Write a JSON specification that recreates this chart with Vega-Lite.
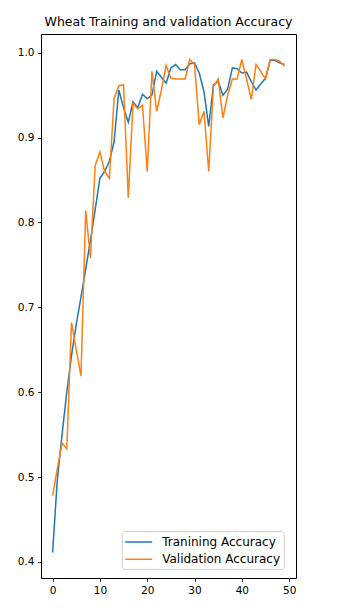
{
  "$schema": "https://vega.github.io/schema/vega-lite/v6.json",
  "autosize": {"type": "none"},
  "padding": {"left": 41, "top": 34, "right": 45, "bottom": 37},
  "width": 255,
  "height": 544,
  "background": "white",
  "title": {"text": "Wheat Training and validation Accuracy", "font": "DejaVu Sans", "fontSize": 12.5, "fontWeight": "normal", "color": "black", "offset": 6, "anchor": "middle"},
  "config": {
    "font": "DejaVu Sans",
    "view": {"stroke": "black", "strokeWidth": 1},
    "axis": {"grid": false, "domain": false, "tickColor": "black", "tickSize": 3.5, "tickWidth": 0.8, "labelColor": "black", "labelFontSize": 10.5, "labelFont": "DejaVu Sans", "labelPadding": 3.5, "title": null}
  },
  "data": {"values": [
    {"epoch":0,"accuracy":0.411,"series":"Tranining Accuracy"},
    {"epoch":1,"accuracy":0.497,"series":"Tranining Accuracy"},
    {"epoch":2,"accuracy":0.55,"series":"Tranining Accuracy"},
    {"epoch":3,"accuracy":0.6,"series":"Tranining Accuracy"},
    {"epoch":4,"accuracy":0.643,"series":"Tranining Accuracy"},
    {"epoch":5,"accuracy":0.68,"series":"Tranining Accuracy"},
    {"epoch":6,"accuracy":0.712,"series":"Tranining Accuracy"},
    {"epoch":7,"accuracy":0.745,"series":"Tranining Accuracy"},
    {"epoch":8,"accuracy":0.779,"series":"Tranining Accuracy"},
    {"epoch":9,"accuracy":0.815,"series":"Tranining Accuracy"},
    {"epoch":10,"accuracy":0.852,"series":"Tranining Accuracy"},
    {"epoch":11,"accuracy":0.86,"series":"Tranining Accuracy"},
    {"epoch":12,"accuracy":0.872,"series":"Tranining Accuracy"},
    {"epoch":13,"accuracy":0.895,"series":"Tranining Accuracy"},
    {"epoch":14,"accuracy":0.956,"series":"Tranining Accuracy"},
    {"epoch":15,"accuracy":0.935,"series":"Tranining Accuracy"},
    {"epoch":16,"accuracy":0.918,"series":"Tranining Accuracy"},
    {"epoch":17,"accuracy":0.942,"series":"Tranining Accuracy"},
    {"epoch":18,"accuracy":0.935,"series":"Tranining Accuracy"},
    {"epoch":19,"accuracy":0.951,"series":"Tranining Accuracy"},
    {"epoch":20,"accuracy":0.946,"series":"Tranining Accuracy"},
    {"epoch":21,"accuracy":0.95,"series":"Tranining Accuracy"},
    {"epoch":22,"accuracy":0.978,"series":"Tranining Accuracy"},
    {"epoch":23,"accuracy":0.971,"series":"Tranining Accuracy"},
    {"epoch":24,"accuracy":0.964,"series":"Tranining Accuracy"},
    {"epoch":25,"accuracy":0.982,"series":"Tranining Accuracy"},
    {"epoch":26,"accuracy":0.986,"series":"Tranining Accuracy"},
    {"epoch":27,"accuracy":0.98,"series":"Tranining Accuracy"},
    {"epoch":28,"accuracy":0.98,"series":"Tranining Accuracy"},
    {"epoch":29,"accuracy":0.987,"series":"Tranining Accuracy"},
    {"epoch":30,"accuracy":0.988,"series":"Tranining Accuracy"},
    {"epoch":31,"accuracy":0.976,"series":"Tranining Accuracy"},
    {"epoch":32,"accuracy":0.954,"series":"Tranining Accuracy"},
    {"epoch":33,"accuracy":0.913,"series":"Tranining Accuracy"},
    {"epoch":34,"accuracy":0.962,"series":"Tranining Accuracy"},
    {"epoch":35,"accuracy":0.966,"series":"Tranining Accuracy"},
    {"epoch":36,"accuracy":0.95,"series":"Tranining Accuracy"},
    {"epoch":37,"accuracy":0.957,"series":"Tranining Accuracy"},
    {"epoch":38,"accuracy":0.982,"series":"Tranining Accuracy"},
    {"epoch":39,"accuracy":0.981,"series":"Tranining Accuracy"},
    {"epoch":40,"accuracy":0.976,"series":"Tranining Accuracy"},
    {"epoch":41,"accuracy":0.977,"series":"Tranining Accuracy"},
    {"epoch":42,"accuracy":0.966,"series":"Tranining Accuracy"},
    {"epoch":43,"accuracy":0.956,"series":"Tranining Accuracy"},
    {"epoch":44,"accuracy":0.963,"series":"Tranining Accuracy"},
    {"epoch":45,"accuracy":0.97,"series":"Tranining Accuracy"},
    {"epoch":46,"accuracy":0.991,"series":"Tranining Accuracy"},
    {"epoch":47,"accuracy":0.991,"series":"Tranining Accuracy"},
    {"epoch":48,"accuracy":0.988,"series":"Tranining Accuracy"},
    {"epoch":49,"accuracy":0.986,"series":"Tranining Accuracy"},
    {"epoch":0,"accuracy":0.478,"series":"Validation Accuracy"},
    {"epoch":1,"accuracy":0.51,"series":"Validation Accuracy"},
    {"epoch":2,"accuracy":0.54,"series":"Validation Accuracy"},
    {"epoch":3,"accuracy":0.533,"series":"Validation Accuracy"},
    {"epoch":4,"accuracy":0.682,"series":"Validation Accuracy"},
    {"epoch":5,"accuracy":0.65,"series":"Validation Accuracy"},
    {"epoch":6,"accuracy":0.619,"series":"Validation Accuracy"},
    {"epoch":7,"accuracy":0.814,"series":"Validation Accuracy"},
    {"epoch":8,"accuracy":0.758,"series":"Validation Accuracy"},
    {"epoch":9,"accuracy":0.867,"series":"Validation Accuracy"},
    {"epoch":10,"accuracy":0.883,"series":"Validation Accuracy"},
    {"epoch":11,"accuracy":0.86,"series":"Validation Accuracy"},
    {"epoch":12,"accuracy":0.852,"series":"Validation Accuracy"},
    {"epoch":13,"accuracy":0.946,"series":"Validation Accuracy"},
    {"epoch":14,"accuracy":0.961,"series":"Validation Accuracy"},
    {"epoch":15,"accuracy":0.962,"series":"Validation Accuracy"},
    {"epoch":16,"accuracy":0.829,"series":"Validation Accuracy"},
    {"epoch":17,"accuracy":0.94,"series":"Validation Accuracy"},
    {"epoch":18,"accuracy":0.934,"series":"Validation Accuracy"},
    {"epoch":19,"accuracy":0.938,"series":"Validation Accuracy"},
    {"epoch":20,"accuracy":0.86,"series":"Validation Accuracy"},
    {"epoch":21,"accuracy":0.978,"series":"Validation Accuracy"},
    {"epoch":22,"accuracy":0.931,"series":"Validation Accuracy"},
    {"epoch":23,"accuracy":0.956,"series":"Validation Accuracy"},
    {"epoch":24,"accuracy":0.985,"series":"Validation Accuracy"},
    {"epoch":25,"accuracy":0.97,"series":"Validation Accuracy"},
    {"epoch":26,"accuracy":0.969,"series":"Validation Accuracy"},
    {"epoch":27,"accuracy":0.969,"series":"Validation Accuracy"},
    {"epoch":28,"accuracy":0.969,"series":"Validation Accuracy"},
    {"epoch":29,"accuracy":0.992,"series":"Validation Accuracy"},
    {"epoch":30,"accuracy":0.986,"series":"Validation Accuracy"},
    {"epoch":31,"accuracy":0.915,"series":"Validation Accuracy"},
    {"epoch":32,"accuracy":0.931,"series":"Validation Accuracy"},
    {"epoch":33,"accuracy":0.86,"series":"Validation Accuracy"},
    {"epoch":34,"accuracy":0.96,"series":"Validation Accuracy"},
    {"epoch":35,"accuracy":0.969,"series":"Validation Accuracy"},
    {"epoch":36,"accuracy":0.923,"series":"Validation Accuracy"},
    {"epoch":37,"accuracy":0.95,"series":"Validation Accuracy"},
    {"epoch":38,"accuracy":0.969,"series":"Validation Accuracy"},
    {"epoch":39,"accuracy":0.969,"series":"Validation Accuracy"},
    {"epoch":40,"accuracy":0.992,"series":"Validation Accuracy"},
    {"epoch":41,"accuracy":0.969,"series":"Validation Accuracy"},
    {"epoch":42,"accuracy":0.945,"series":"Validation Accuracy"},
    {"epoch":43,"accuracy":0.986,"series":"Validation Accuracy"},
    {"epoch":44,"accuracy":0.978,"series":"Validation Accuracy"},
    {"epoch":45,"accuracy":0.969,"series":"Validation Accuracy"},
    {"epoch":46,"accuracy":0.992,"series":"Validation Accuracy"},
    {"epoch":47,"accuracy":0.992,"series":"Validation Accuracy"},
    {"epoch":48,"accuracy":0.99,"series":"Validation Accuracy"},
    {"epoch":49,"accuracy":0.984,"series":"Validation Accuracy"}
  ]},
  "mark": {"type": "line", "strokeWidth": 1.5},
  "encoding": {
    "x": {"field": "epoch", "type": "quantitative", "scale": {"domain": [-2.45, 51.45], "nice": false, "zero": false}, "axis": {"values": [0, 10, 20, 30, 40, 50], "format": "d"}},
    "y": {"field": "accuracy", "type": "quantitative", "scale": {"domain": [0.381, 1.022], "nice": false, "zero": false}, "axis": {"values": [0.4, 0.5, 0.6, 0.7, 0.8, 0.9, 1.0], "format": ".1f"}},
    "color": {"field": "series", "type": "nominal", "scale": {"domain": ["Tranining Accuracy", "Validation Accuracy"], "range": ["#1f77b4", "#ff7f0e"]},
      "legend": {"title": null, "orient": "none", "legendX": 80.7, "legendY": 497, "symbolType": "M-2,0H2", "symbolSize": 182, "symbolStrokeWidth": 1.5, "symbolOffset": 6, "labelFontSize": 12, "labelColor": "black", "labelFont": "DejaVu Sans", "rowPadding": 3.3, "padding": 3.5, "strokeColor": "#d0d0d0", "fillColor": "white", "cornerRadius": 3, "labelOffset": 16, "offset": 0}}
  }
}
